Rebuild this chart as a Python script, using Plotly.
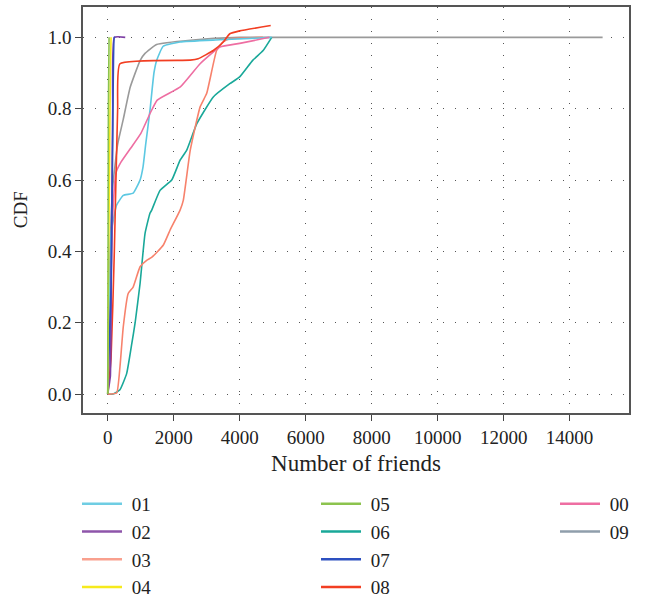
import plotly.graph_objects as go

names = ["01", "02", "03", "04", "05", "06", "07", "08", "00", "09"]
colors = ["#5cc8e2", "#7d3ea4", "#f7826c", "#f6ea1c", "#8cc34e", "#19a899", "#2d50c0", "#f23e22", "#ee6ea2", "#9a9a9a"]
legend_colors = {"09": "#8f9eab", "03": "#f9a08e", "01": "#6fcde3", "02": "#8e55aa"}

x01 = [0, 50, 100, 270, 470, 770, 980, 1070, 1150, 1280, 1400, 1485, 1680, 2190, 3400, 4970]
y01 = [0, 0.2, 0.45, 0.53, 0.557, 0.563, 0.6, 0.637, 0.7, 0.795, 0.9, 0.936, 0.975, 0.987, 0.993, 1.0]
x02 = [0, 50, 80, 100, 120, 150, 200, 530]
y02 = [0, 0.03, 0.05, 0.2, 0.5, 0.8, 1.0, 1.0]
x03 = [0, 270, 370, 470, 620, 770, 980, 1180, 1330, 1680, 1890, 2190, 2290, 2500, 2800, 3000, 3300, 3500, 3700, 4700]
y03 = [0, 0.003, 0.076, 0.188, 0.282, 0.30, 0.357, 0.375, 0.383, 0.417, 0.46, 0.515, 0.543, 0.683, 0.805, 0.843, 0.963, 0.987, 0.996, 1.0]
x04 = [0, 20, 50, 80, 100]
y04 = [0, 0.3, 0.6, 0.9, 1.0]
x05 = [0, 10, 20, 40]
y05 = [0, 0.4, 0.8, 1.0]
x06 = [0, 160, 370, 575, 730, 830, 980, 1130, 1280, 1330, 1585, 1940, 2190, 2390, 2700, 3200, 3700, 4000, 4400, 4710, 4970]
y06 = [0, 0, 0.012, 0.058, 0.142, 0.2, 0.31, 0.45, 0.507, 0.515, 0.571, 0.6, 0.655, 0.683, 0.758, 0.833, 0.87, 0.889, 0.936, 0.963, 1.0]
x07 = [0, 100, 150, 200, 220]
y07 = [0, 0.3, 0.7, 1.0, 1.0]
x08 = [0, 100, 200, 300, 370, 2500, 2740, 3200, 3500, 3700, 4000, 4940]
y08 = [0, 0.1, 0.4, 0.8, 0.926, 0.936, 0.94, 0.963, 0.987, 1.01, 1.018, 1.033]
x00 = [0, 50, 100, 150, 250, 400, 700, 1000, 1300, 1500, 2200, 2800, 3400, 4000, 4900]
y00 = [0, 0.1, 0.3, 0.5, 0.62, 0.65, 0.69, 0.73, 0.79, 0.824, 0.861, 0.926, 0.973, 0.983, 1.0]
x09 = [0, 30, 70, 150, 300, 470, 680, 980, 1130, 1480, 2500, 4000, 15000]
y09 = [0, 0.2, 0.4, 0.58, 0.7, 0.77, 0.86, 0.935, 0.955, 0.98, 0.992, 1.0, 1.0]

xs = [x01, x02, x03, x04, x05, x06, x07, x08, x00, x09]
ys = [y01, y02, y03, y04, y05, y06, y07, y08, y00, y09]
legend_of = ["legend", "legend", "legend", "legend", "legend2", "legend2", "legend2", "legend2", "legend3", "legend3"]

x_ticks = [0, 2000, 4000, 6000, 8000, 10000, 12000, 14000]
x_ticktext = ["0", "2000", "4000", "6000", "8000", "10000", "12000", "14000"]
y_ticks = [0.0, 0.2, 0.4, 0.6, 0.8, 1.0]

FONT = "Liberation Serif"
fig = go.Figure()
order = [9, 5, 2, 0, 8, 7, 1, 6, 3, 4]
for i in order:
    fig.add_trace(go.Scatter(x=xs[i], y=ys[i], mode="lines", name=names[i],
                             line=dict(color=colors[i], width=1.6, shape="spline", smoothing=0.4),
                             showlegend=False, hoverinfo="skip"))
for i in range(10):
    fig.add_trace(go.Scatter(x=[None], y=[None], mode="lines", name="\u00a0" + names[i],
                             line=dict(color=legend_colors.get(names[i], colors[i]), width=2.5),
                             legend=legend_of[i]))

leg_common = dict(font=dict(family=FONT, size=19, color="#222"), bgcolor="rgba(0,0,0,0)",
                  yanchor="top", xanchor="left", xref="container", yref="container",
                  itemwidth=40, borderwidth=0)
leg_top = 1 - 485 / 597
fig.update_layout(
    width=653, height=597,
    margin=dict(l=83, r=24, t=7, b=184, autoexpand=False),
    plot_bgcolor="white", paper_bgcolor="white",
    font=dict(family=FONT, size=19, color="#222"),
    legend=dict(x=77/653, y=leg_top, **leg_common),
    legend2=dict(x=316/653, y=leg_top, **leg_common),
    legend3=dict(x=555/653, y=leg_top, **leg_common),
    xaxis=dict(range=[-750, 15800], tickvals=x_ticks, ticktext=x_ticktext, ticks="outside", ticklen=6,
               tickcolor="#444", showline=True, linecolor="#555", linewidth=1.6, mirror=True,
               showgrid=True, gridcolor="#555", griddash="1px,11px", gridwidth=1.2,
               zeroline=False, title=dict(text="Number of friends", standoff=8),
               tickfont=dict(size=19)),
    yaxis=dict(range=[-0.053, 1.085], tickvals=y_ticks, tickformat=".1f", ticks="outside", ticklen=6,
               tickcolor="#444", showline=True, linecolor="#555", linewidth=1.6, mirror=True,
               showgrid=True, gridcolor="#555", griddash="1px,11px", gridwidth=1.2,
               zeroline=False, tickfont=dict(size=19)),
    annotations=[dict(text="CDF", textangle=-90, xref="paper", yref="paper", x=-0.115, y=0.5,
                      xanchor="center", yanchor="middle", showarrow=False,
                      font=dict(family=FONT, size=19, color="#222"))],
)
fig.write_html("out.html")
